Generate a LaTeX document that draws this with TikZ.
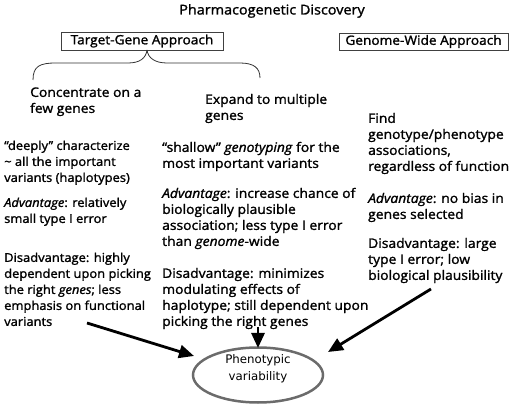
\documentclass[tikz,border=0pt]{standalone}
\usepackage{fontspec}
\setmainfont{Open Sans}[FakeBold=1.5,FakeStretch=1.06]
\newfontfamily\ellfont{DejaVu Sans}
\usetikzlibrary{arrows.meta}
\begin{document}
\begin{tikzpicture}[x=1pt,y=-1pt,
  txt/.style={anchor=north west,inner sep=0pt,align=left,font=\fontsize{13.1}{16}\selectfont},
  lefttxt/.style={txt,font=\fontsize{12.2}{16}\selectfont},
  boxed/.style={draw=black!75,line width=0.8pt,inner sep=0pt,font=\fontsize{12.9}{14}\selectfont},
  bigarrow/.style={line width=2.8pt,-{Triangle[length=15pt,width=13pt]}}]
\useasboundingbox (0,0) rectangle (520,406);
\node[anchor=base,inner sep=0pt,font=\fontsize{13.6}{14}\selectfont] (title) at (272,14.5) {Pharmacogenetic Discovery};
\node[boxed,minimum width=162pt,minimum height=18pt] (tg) at (142,41) {Target-Gene Approach};
\node[boxed,minimum width=169pt,minimum height=17pt] (gw) at (423.5,41.5) {Genome-Wide Approach};
\coordinate (bt) at (147,50);
\draw[black!80,line width=0.8pt] (33,80) .. controls (33,66) and (40,63) .. (56,63) -- (128,63) .. controls (140,63) and (146,58) .. (bt);
\draw[black!80,line width=0.8pt] (bt) .. controls (148,58) and (155,63) .. (167,63) -- (240,63) .. controls (254,63) and (260,68) .. (260,78);
\node[txt] (conc) at (30,85.5) {\strut Concentrate on a\\few genes};
\node[txt] (expd) at (205,92.5) {\strut Expand to multiple\\genes};
\node[txt] (find) at (368,111.5) {\strut Find\\genotype/phenotype\\associations,\\regardless of function};
\node[lefttxt] (l1) at (4,138.5) {\strut ``deeply'' characterize\\\textasciitilde{} all the important\\variants (haplotypes)};
\node[lefttxt] (l2) at (4,195.5) {\strut\textit{Advantage}: relatively\\small type I error};
\node[lefttxt] (l3) at (4,250.5) {\strut Disadvantage: highly\\dependent upon picking\\the right \textit{genes}; less\\emphasis on functional\\variants};
\node[txt] (m1) at (162,140.5) {\strut``shallow'' \textit{genotyping} for the\\most important variants};
\node[txt] (m2) at (162,186.5) {\strut\textit{Advantage}: increase chance of\\biologically plausible\\association; less type I error\\than \textit{genome}-wide};
\node[txt] (m3) at (162,266.5) {\strut Disadvantage: minimizes\\modulating effects of\\haplotype; still dependent upon\\picking the right genes};
\node[txt] (r2) at (368,191.5) {\strut\textit{Advantage}: no bias in\\genes selected};
\node[txt] (r3) at (368,236.5) {\strut Disadvantage: large\\type I error; low\\biological plausibility};
\draw[black!58,line width=2.5pt] (258,375) ellipse [x radius=65, y radius=27.5];
\node[align=center,inner sep=0pt,font=\ellfont\fontsize{11.8}{17}\selectfont] (pv) at (258,369) {Phenotypic\\variability};
\coordinate (a1s) at (87,323);
\coordinate (a1e) at (194,356);
\coordinate (a2s) at (258,327);
\coordinate (a2e) at (258,348);
\coordinate (a3s) at (431,289);
\coordinate (a3e) at (328,352);
\draw[bigarrow] (a1s) -- (a1e);
\draw[bigarrow] (a2s) -- (a2e);
\draw[bigarrow] (a3s) -- (a3e);
\end{tikzpicture}
\end{document}
